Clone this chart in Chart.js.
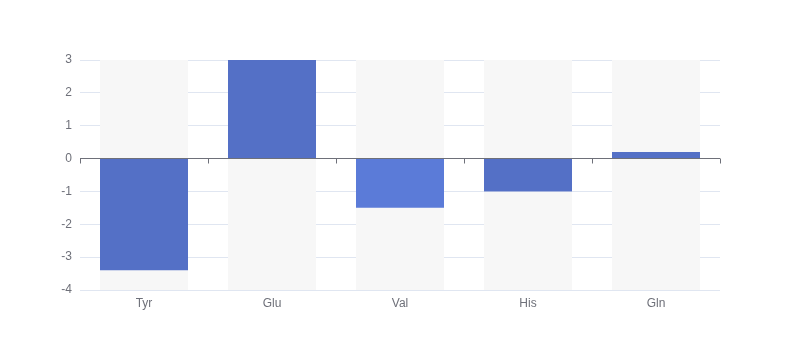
<!DOCTYPE html>
<html>
<head>
<meta charset="utf-8">
<script src="https://cdn.jsdelivr.net/npm/chart.js@4/dist/chart.umd.min.js"></script>
<style>
  body { margin: 0; background: #fff; }
  #wrap { width: 800px; height: 360px; }
</style>
</head>
<body>
<div id="wrap"><canvas id="canvas"></canvas></div>
<script>
// data
const labels = ["Tyr", "Glu", "Val", "His", "Gln"];
const values = [-3.4, 3, -1.5, -1, 0.2];
const barColors = ["#5470c6", "#5470c6", "#5b7bd8", "#5470c6", "#5470c6"];
const yMin = -4;
const yMax = 3;

// zero axis line with ticks between categories
const zeroAxis = {
    id: "zeroAxis",
    afterDatasetsDraw(chart) {
        const ctx = chart.ctx;
        const x = chart.scales.x;
        const y = chart.scales.y;
        const y0 = Math.floor(y.getPixelForValue(0)) + 0.5;
        const step = (x.right - x.left) / labels.length;
        ctx.save();
        ctx.strokeStyle = "#6e7079";
        ctx.lineWidth = 1;
        ctx.beginPath();
        ctx.moveTo(x.left, y0);
        ctx.lineTo(x.right, y0);
        for (let i = 0; i <= labels.length; i++) {
            const px = Math.round(x.left + i * step) + 0.5;
            ctx.moveTo(px, y0);
            ctx.lineTo(px, y0 + 5);
        }
        ctx.stroke();
        ctx.restore();
    }
};

const source = {
    labels: labels,
    datasets: [
        {
            data: values,
            backgroundColor: barColors,
            borderWidth: 0,
            barPercentage: 0.6875,
            categoryPercentage: 1,
            grouped: false,
            order: 1
        },
        {
            data: labels.map(() => [yMin, yMax]),
            backgroundColor: "#f7f7f7",
            borderWidth: 0,
            barPercentage: 0.6875,
            categoryPercentage: 1,
            grouped: false,
            order: 2
        }
    ]
};

const config = {
    type: "bar",
    data: source,
    options: {
        responsive: true,
        maintainAspectRatio: false,
        animation: false,
        layout: { padding: { top: 60, right: 80, left: 0, bottom: 0 } },
        plugins: { legend: { display: false }, tooltip: { enabled: false } },
        scales: {
            x: {
                offset: true,
                border: { display: false },
                grid: { display: false, drawTicks: false },
                ticks: { color: "#6e7079", font: { size: 12 }, padding: 6 },
                afterFit: (s) => { s.height = 70; }
            },
            y: {
                min: yMin,
                max: yMax,
                border: { display: false },
                grid: { color: "#e0e6f1", drawTicks: false },
                ticks: { stepSize: 1, color: "#6e7079", font: { size: 12 }, padding: 8 },
                afterFit: (s) => { s.width = 80; }
            }
        }
    },
    plugins: [zeroAxis]
};

const chart = new Chart(document.getElementById("canvas").getContext("2d"), config);
</script>
</body>
</html>
